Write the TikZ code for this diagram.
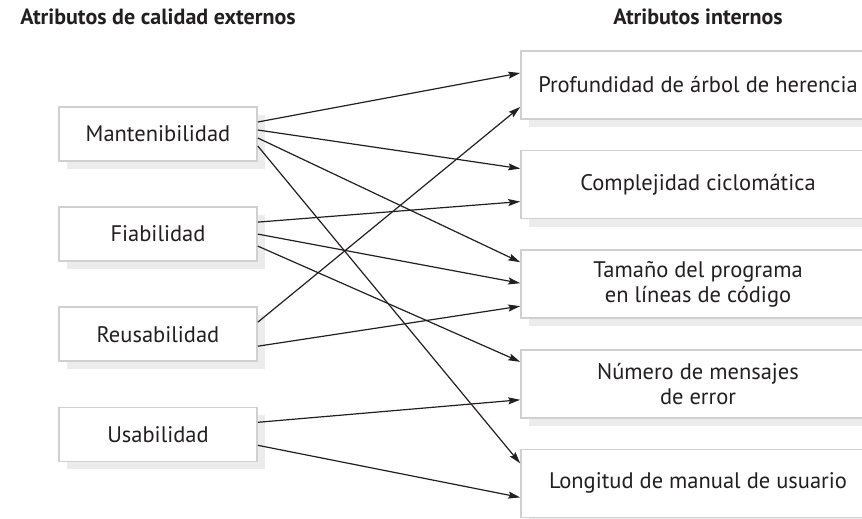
\documentclass[tikz,border=0pt]{standalone}
\usepackage{fontspec}
\setmainfont{PT Sans}
\usepackage{xcolor}
\usepackage{tikz}
\usetikzlibrary{arrows.meta, positioning, shadows, calc}
\definecolor{bordegris}{RGB}{208,208,208}
\definecolor{sombragris}{RGB}{236,236,236}
\definecolor{tinta}{RGB}{35,31,32}

\begin{document}
\begin{tikzpicture}[x=1pt, y=1pt, >={Stealth[length=12pt, width=7pt, inset=2pt]},
        externo/.style={rectangle, draw=bordegris, line width=1.6pt, fill=white,
                        minimum width=198pt, minimum height=54pt, inner sep=0pt,
                        font=\fontsize{22.5}{25}\selectfont, text=tinta,
                        drop shadow={shadow xshift=8pt, shadow yshift=-8pt,
                                     fill=sombragris, opacity=1}},
        interno/.style={externo, minimum width=354pt, minimum height=68pt, align=center},
        titulo/.style={font=\fontsize{22}{26}\selectfont\bfseries, text=tinta, anchor=base},
        flecha/.style={->, line width=1.2pt, draw=tinta}]
      \useasboundingbox (0,0) rectangle (862,-519);

      % titulos
      \node[titulo] (T1) at (158,-25) {Atributos de calidad externos};
      \node[titulo] (T2) at (698,-25) {Atributos internos};

      % atributos externos
      \node[externo] (M) at (158,-134) {Mantenibilidad};
      \node[externo, below=44.5pt of M] (F) {Fiabilidad};
      \node[externo, below=44.5pt of F] (R) {Reusabilidad};
      \node[externo, below=44.5pt of R] (U) {Usabilidad};

      % atributos internos
      \node[interno] (P) at (698,-85) {Profundidad de árbol de herencia};
      \node[interno, below=30pt of P] (C) {Complejidad ciclomática};
      \node[interno, below=30pt of C] (T) {Tamaño del programa\\en líneas de código};
      \node[interno, below=30pt of T] (N) {Número de mensajes\\de error};
      \node[interno, below=30pt of N] (L) {Longitud de manual de usuario};

      \draw[flecha] ($(M.east)+(0,12)$) -- ($(P.west)+(0,12)$);
      \draw[flecha] ($(M.east)+(0,4)$)  -- ($(C.west)+(0,16)$);
      \draw[flecha] ($(M.east)+(0,-4)$) -- ($(T.west)+(0,22)$);
      \draw[flecha] ($(M.east)+(0,-12)$) -- ($(L.west)+(0,20)$);
      \draw[flecha] ($(F.east)+(0,12)$) -- ($(C.west)+(0,-17)$);
      \draw[flecha] ($(F.east)+(0,0)$)  -- ($(T.west)+(0,1)$);
      \draw[flecha] ($(F.east)+(0,-12)$) -- ($(N.west)+(0,22)$);
      \draw[flecha] ($(R.east)+(0,12)$) -- ($(P.west)+(0,-22)$);
      \draw[flecha] ($(R.east)+(0,-12)$) -- ($(T.west)+(0,-22)$);
      \draw[flecha] ($(U.east)+(0,12)$) -- ($(N.west)+(0,-16)$);
      \draw[flecha] ($(U.east)+(0,-11)$) -- ($(L.west)+(0,-14)$);
    \end{tikzpicture}
\end{document}
